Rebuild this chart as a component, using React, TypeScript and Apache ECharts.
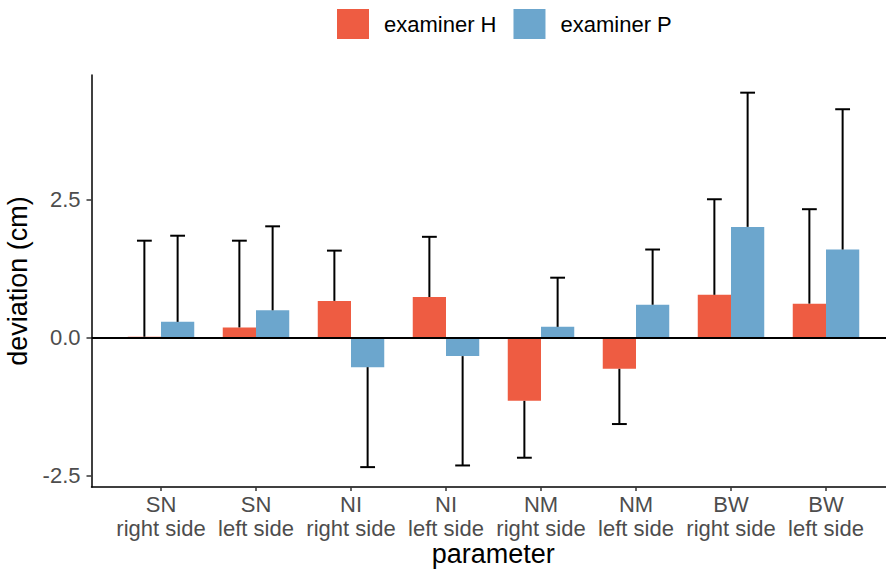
import React, { useEffect, useRef } from "react";
import * as echarts from "echarts";

const categories = [
  "SN\nright side",
  "SN\nleft side",
  "NI\nright side",
  "NI\nleft side",
  "NM\nright side",
  "NM\nleft side",
  "BW\nright side",
  "BW\nleft side",
];
const seriesNames = ["examiner H", "examiner P"];
const meanH = [0.02, 0.19, 0.67, 0.74, -1.14, -0.56, 0.78, 0.62];
const sdH = [1.74, 1.57, 0.91, 1.09, 1.03, 1.0, 1.73, 1.71];
const meanP = [0.29, 0.5, -0.53, -0.33, 0.2, 0.6, 2.01, 1.6];
const sdP = [1.56, 1.52, 1.81, 1.98, 0.89, 1.0, 2.43, 2.54];
const yTicks = [-2.5, 0, 2.5];
const yMin = -2.7;
const yMax = 4.76;

const colorH = "#EE5C42";
const colorP = "#6CA6CD";
const font = "Liberation Sans, Arial, Helvetica, sans-serif";

export default function App() {
  const ref = useRef<HTMLDivElement>(null);
  useEffect(() => {
    if (!ref.current) return;
    const chart = echarts.init(ref.current, undefined, { renderer: "svg" });
    const errData = (means: number[], sds: number[], side: number) =>
      means.map((m, i) => [i, m, sds[i], side]);
    const renderErr = (params: any, api: any) => {
      const idx = api.value(0);
      const mean = api.value(1);
      const sd = api.value(2);
      const side = api.value(3);
      const end = mean >= 0 ? mean + sd : mean - sd;
      const base = api.coord([idx, mean]);
      const tip = api.coord([idx, end]);
      const band = api.size([1, 0])[0];
      const x = base[0] + side * band * 0.175;
      const cap = band * 0.078;
      const st = { stroke: "#000", lineWidth: 2 };
      return {
        type: "group",
        children: [
          { type: "line", shape: { x1: x, y1: base[1], x2: x, y2: tip[1] }, style: st },
          { type: "line", shape: { x1: x - cap, y1: tip[1], x2: x + cap, y2: tip[1] }, style: st },
        ],
      };
    };
    chart.setOption({
      animation: false,
      textStyle: { fontFamily: font },
      legend: {
        data: seriesNames,
        left: 337,
        top: 9,
        padding: 0,
        itemWidth: 32,
        itemHeight: 30,
        itemGap: 17,
        icon: "rect",
        textStyle: { fontSize: 22, color: "#000", fontFamily: font, padding: [0, 0, 0, 10] },
      },
      grid: [
        { left: 113.5, right: 12.5, top: 75, bottom: 86, outerBoundsMode: "none", containLabel: false },
        { left: 91.5, right: -9, top: 75, bottom: 86, outerBoundsMode: "none", containLabel: false },
      ],
      xAxis: [
        {
          type: "category",
          gridIndex: 0,
          data: categories,
          boundaryGap: true,
          position: "bottom",
          axisLine: { show: false, onZero: false },
          axisTick: {
            show: true,
            interval: 0,
            alignWithLabel: true,
            length: 4,
            lineStyle: { color: "#333", width: 1.5 },
          },
          axisLabel: {
            interval: 0,
            fontSize: 22,
            color: "#4D4D4D",
            lineHeight: 24,
            margin: 5,
            fontFamily: font,
          },
          splitLine: { show: false },
        },
        {
          type: "value",
          gridIndex: 1,
          min: 0,
          max: 1,
          axisLine: { show: true, onZero: false, lineStyle: { color: "#000", width: 1.5 } },
          axisTick: { show: false },
          axisLabel: { show: false },
          splitLine: { show: false },
          name: "parameter",
          nameLocation: "middle",
          nameGap: 53,
          nameTextStyle: { fontSize: 27, color: "#000", fontFamily: font },
        },
      ],
      yAxis: [
        {
          type: "value",
          gridIndex: 0,
          min: yMin,
          max: yMax,
          show: false,
        },
        {
          type: "value",
          gridIndex: 1,
          min: yMin,
          max: yMax,
          axisLine: { show: true, onZero: false, lineStyle: { color: "#000", width: 1.5 } },
          axisTick: { show: true, customValues: yTicks, length: 5, lineStyle: { color: "#333", width: 1.5 } },
          axisLabel: {
            show: true,
            customValues: yTicks,
            formatter: (v: number) => v.toFixed(1),
            fontSize: 22,
            color: "#4D4D4D",
            margin: 11,
            fontFamily: font,
          },
          splitLine: { show: false },
          name: "deviation (cm)",
          nameLocation: "middle",
          nameGap: 54,
          nameTextStyle: { fontSize: 27, color: "#000", fontFamily: font },
        },
      ],
      series: [
        {
          name: seriesNames[0],
          type: "bar",
          xAxisIndex: 0,
          yAxisIndex: 0,
          data: meanH,
          barWidth: "35%",
          barGap: "0%",
          itemStyle: { color: colorH },
        },
        {
          name: seriesNames[1],
          type: "bar",
          xAxisIndex: 0,
          yAxisIndex: 0,
          data: meanP,
          barWidth: "35%",
          barGap: "0%",
          itemStyle: { color: colorP },
        },
        {
          type: "custom",
          xAxisIndex: 0,
          yAxisIndex: 0,
          renderItem: renderErr,
          data: errData(meanH, sdH, -1),
          encode: { x: 0, y: 1 },
          z: 4,
        },
        {
          type: "custom",
          xAxisIndex: 0,
          yAxisIndex: 0,
          renderItem: renderErr,
          data: errData(meanP, sdP, 1),
          encode: { x: 0, y: 1 },
          z: 4,
        },
        {
          type: "line",
          xAxisIndex: 1,
          yAxisIndex: 1,
          data: [],
          z: 10,
          markLine: {
            silent: true,
            symbol: "none",
            label: { show: false },
            lineStyle: { color: "#000", width: 2, type: "solid" },
            data: [{ yAxis: 0 }],
          },
        },
      ],
    });
    return () => chart.dispose();
  }, []);
  return (
    <div
      ref={ref}
      style={{ position: "absolute", left: 0, top: 0, width: 886, height: 573 }}
    />
  );
}
